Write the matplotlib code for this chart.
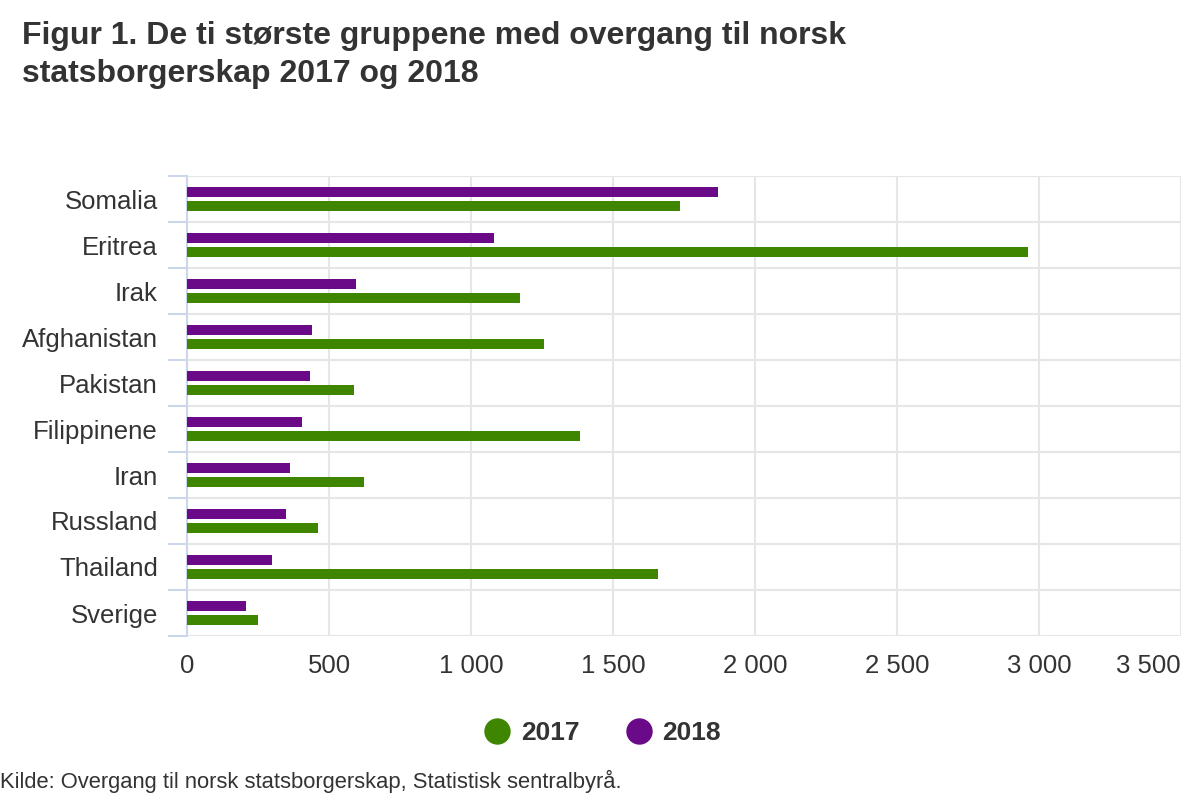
import numpy as np
import matplotlib.pyplot as plt
from matplotlib.lines import Line2D

plt.rcParams['font.family'] = ['Liberation Sans', 'DejaVu Sans']

countries = ["Somalia", "Eritrea", "Irak", "Afghanistan", "Pakistan",
             "Filippinene", "Iran", "Russland", "Thailand", "Sverige"]
v2017 = [1736, 2961, 1173, 1258, 587, 1384, 623, 461, 1659, 250]
v2018 = [1870, 1081, 595, 440, 433, 405, 363, 348, 300, 208]
xticks = [0, 500, 1000, 1500, 2000, 2500, 3000, 3500]
xlabels = ["0", "500", "1 000", "1 500", "2 000", "2 500", "3 000", "3 500"]

green = "#3f8600"
purple = "#6a0a88"
text_col = "#333333"

fig = plt.figure(figsize=(12, 8), dpi=100)
ax = fig.add_axes([187 / 1200, 1 - 636 / 800, (1181 - 187) / 1200, 460 / 800])

y = np.arange(len(countries))
h = 0.22
off = 0.155
ax.barh(y - off, v2018, height=h, color=purple, zorder=3)
ax.barh(y + off, v2017, height=h, color=green, zorder=3)

ax.set_xlim(0, 3500)
ax.set_ylim(len(countries) - 0.5, -0.5)
ax.set_xticks(xticks)
ax.set_xticklabels(xlabels)
ax.get_xticklabels()[-1].set_horizontalalignment('right')
ax.set_yticks(y)
ax.set_yticklabels(countries)
ax.set_yticks(np.arange(-0.5, len(countries)), minor=True)

ax.tick_params(axis='x', length=0, pad=13, labelsize=18.5, labelcolor=text_col)
ax.tick_params(axis='y', which='major', length=0, pad=21, labelsize=18.5,
               labelcolor=text_col)
ax.tick_params(axis='y', which='minor', length=14, width=1.5, color="#ccd6eb")

ax.grid(axis='x', color="#e6e6e6", linewidth=1.5)
ax.grid(axis='y', which='minor', color="#e6e6e6", linewidth=1.5)
ax.set_axisbelow(True)

for s in ["top", "right", "bottom"]:
    ax.spines[s].set_visible(False)
ax.spines["left"].set_color("#ccd6eb")
ax.spines["left"].set_linewidth(1.5)

fig.text(22 / 1200, 1 - 21 / 800, "Figur 1. De ti største gruppene med overgang til norsk\nstatsborgerskap 2017 og 2018",
         fontsize=23, fontweight='bold', color=text_col, va='top',
         linespacing=1.33)

handles = [Line2D([], [], marker='o', linestyle='none', markersize=18,
                  color=green, label="2017"),
           Line2D([], [], marker='o', linestyle='none', markersize=18,
                  color=purple, label="2018")]
fig.legend(handles=handles, loc='center', bbox_to_anchor=(0.501, 1 - 733 / 800),
           ncol=2, frameon=False, handlelength=1.2, handletextpad=0.3,
           columnspacing=1.65, prop={'weight': 'bold', 'size': 19},
           labelcolor=text_col)

fig.text(0, 1 - 781 / 800, "Kilde: Overgang til norsk statsborgerskap, Statistisk sentralbyrå.",
         fontsize=15.8, color=text_col, va='center')

fig.savefig("out.png", dpi=100, facecolor="white")
